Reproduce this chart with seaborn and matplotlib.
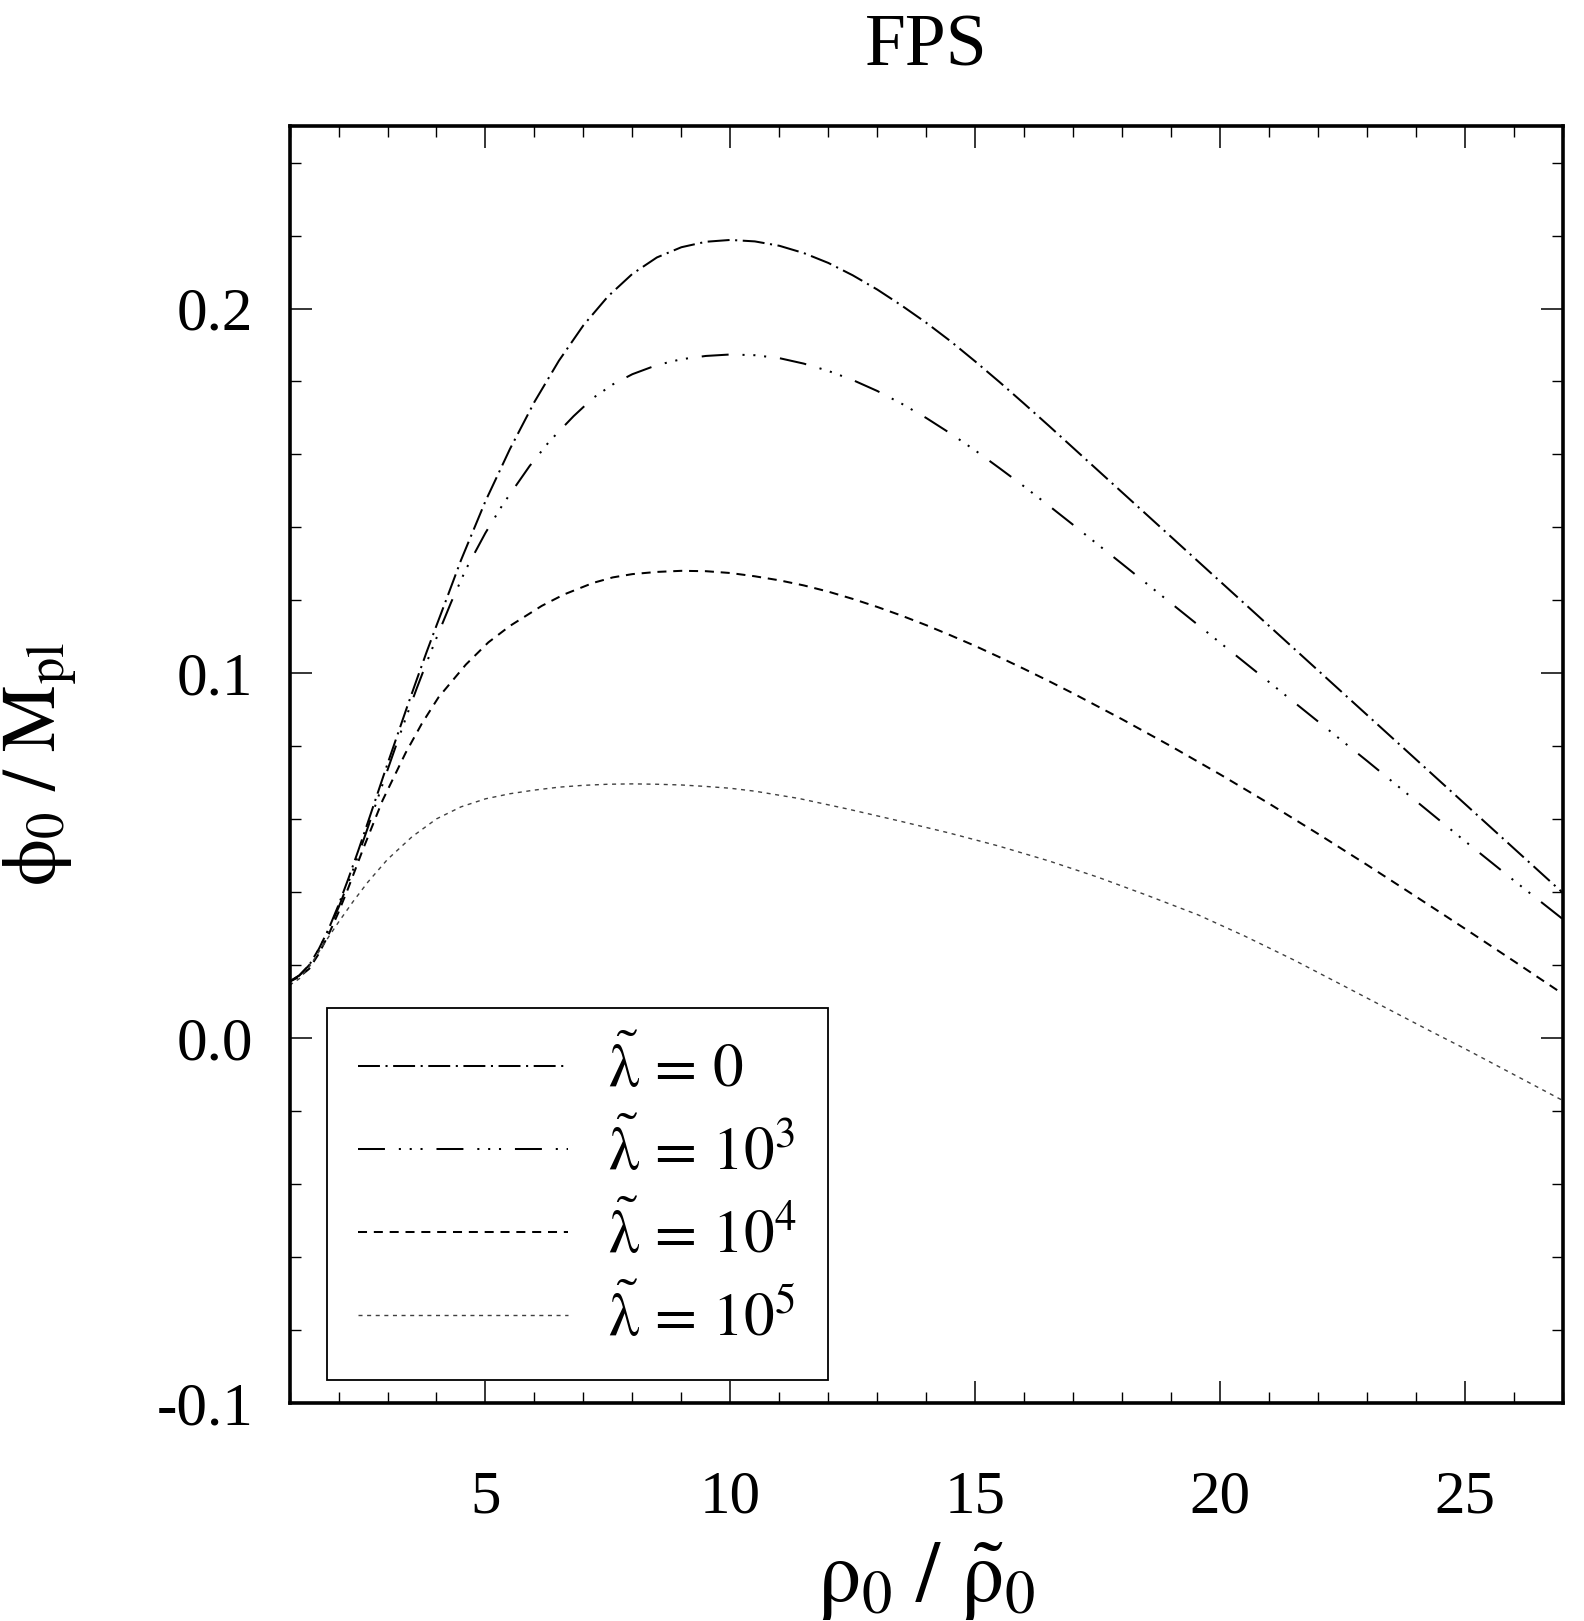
import numpy as np
import pandas as pd
import matplotlib
matplotlib.use("Agg")
import matplotlib.pyplot as plt
import seaborn as sns
from matplotlib.ticker import MultipleLocator, FixedLocator, FixedFormatter

# ---------------- data ----------------
x_lam0 = [1.0, 1.2, 1.4, 1.6, 1.8, 2.0, 2.2, 2.4, 2.6, 2.8, 3.0, 3.2, 3.4, 3.6, 3.8, 4.0, 4.2,
          4.5, 5.0, 5.5, 6.0, 6.5, 7.0, 7.5, 8.0, 8.5, 9.0, 9.5, 10.0, 10.5, 11.0, 11.5, 12.0,
          12.5, 13.0, 13.5, 14.0, 14.5, 15.0, 15.5, 16.0, 16.5, 17.0,
          18, 19, 20, 21, 22, 23, 24, 25, 26, 27]
y_lam0 = [.0155, .0172, .0200, .0245, .0300, .0365, .0437, .0513, .0592, .0672, .0752, .0830,
          .0908, .0984, .1059, .1131, .1202,
          .1310, .1472, .1615, .1744, .1857, .1954, .2033, .2095, .2140, .2168, .2183, .2188,
          .2184, .2172, .2152, .2125, .2091, .2052, .2008, .1961, .1910, .1855, .1798, .1739,
          .1679, .1618,
          .1496, .1374, .1252, .1130, .1008, .0886, .0764, .0642, .0520, .0398]

x_lam3 = [1.0, 1.2, 1.4, 1.6, 1.8, 2.0, 2.2, 2.4, 2.6, 2.8, 3.0, 3.2, 3.4, 3.6, 3.8, 4.0,
          4.3, 4.6, 5.0, 5.35, 5.9, 6.3, 6.8, 7.2, 7.6, 8.0,
          8.5, 9.0, 9.5, 10.0, 10.5, 11.0, 11.5, 12.0, 12.5, 13.0, 13.5, 14.0, 14.5, 15.0,
          15.5, 16.0, 16.5, 17.0,
          18, 19, 20, 21, 22, 23, 24, 25, 26, 27]
y_lam3 = [.0155, .0172, .0200, .0244, .0297, .0358, .0426, .0500, .0578, .0657, .0735, .0812,
          .0887, .0960, .1030, .1097,
          .1195, .1285, .1385, .1462, .1568, .1635, .1705, .1755, .1792, .1820,
          .1845, .1861, .1870, .1874, .1872, .1864, .1849, .1829, .1804, .1774, .1739, .1700,
          .1657, .1611, .1562, .1512, .1460, .1407,
          .1300, .1192, .1084, .0976, .0868, .0760, .0650, .0540, .0432, .0326]

x_lam4 = [1.0, 1.2, 1.4, 1.6, 1.8, 2.0, 2.2,
          2.5, 2.9, 3.37, 3.7, 4.04, 4.6, 5.06, 5.5, 6.15, 6.6, 7.2, 7.6, 8.0,
          8.5, 9.0, 9.5, 10.0, 10.5, 11.0, 11.5, 12.0, 12.5, 13.0, 13.5, 14.0, 14.5, 15.0,
          15.5, 16.0, 16.5, 17.0,
          18, 19, 20, 21, 22, 23, 24, 25, 26, 27]
y_lam4 = [.0155, .0168, .0190, .0232, .0285, .0345, .0412,
          .0518, .0652, .0782, .0862, .0934, .1024, .1085, .1130, .1185, .1216, .1248, .1263,
          .1272,
          .1278, .1281, .1280, .1275, .1266, .1255, .1241, .1224, .1204, .1182, .1158, .1132,
          .1104, .1075, .1044, .1012, .0979, .0945,
          .0874, .0800, .0723, .0643, .0560, .0475, .0388, .0300, .0211, .0121]

x_lam5 = [1.0, 1.2, 1.4, 1.6, 1.8, 2.0, 2.3, 2.6, 3.0, 3.5, 4.0,
          4.5, 5.0, 5.5, 6.0, 6.5, 7.0, 7.5, 8.0, 8.5, 9.0, 9.5, 10.0, 10.5,
          11.4, 12.4, 13.43, 14.45, 15.47, 16.5, 17.51, 18.5, 19.55, 20.5, 21.51, 22.5, 23.6,
          24.3, 25.0, 26.0, 26.9, 27.0]
y_lam5 = [.0145, .0163, .0195, .0237, .0278, .0318, .0375, .0428, .0490, .0552, .0601,
          .0634, .0656, .0670, .0680, .0688, .0693, .0696, .0697, .0696, .0694, .0690, .0685,
          .0677,
          .0657, .0628, .0596, .0563, .0527, .0486, .0441, .0392, .0338, .0280, .0214, .0145,
          .0068, .0019, -.0029, -.0100, -.0164, -.0171]

series_labels = [r"$\tilde{\mathrm{\lambda}}\,=\,0$",
                 r"$\tilde{\mathrm{\lambda}}\,=\,10^3$",
                 r"$\tilde{\mathrm{\lambda}}\,=\,10^4$",
                 r"$\tilde{\mathrm{\lambda}}\,=\,10^5$"]

x_ticks = [5, 10, 15, 20, 25]
x_ticklabels = ["5", "10", "15", "20", "25"]
y_ticks = [-0.1, 0.0, 0.1, 0.2]
y_ticklabels = ["-0.1", "0.0", "0.1", "0.2"]

title_text = "FPS"
xlabel_text = r"$\mathrm{\rho}_0\ /\ \tilde{\mathrm{\rho}}_0$"
ylabel_text = r"$\mathrm{\phi}_0\ /\ \mathrm{M}_{\mathrm{pl}}$"

# ---------------- styling ----------------
sns.set_theme(style="ticks")
plt.rcParams["font.family"] = ["Liberation Serif", "DejaVu Serif"]
plt.rcParams["mathtext.fontset"] = "stix"
plt.rcParams["lines.scale_dashes"] = False
for k in ["text.color", "axes.labelcolor", "xtick.color", "ytick.color", "axes.edgecolor"]:
    plt.rcParams[k] = "black"

frames = []
for xs, ys, lab in zip([x_lam0, x_lam3, x_lam4, x_lam5],
                       [y_lam0, y_lam3, y_lam4, y_lam5], series_labels):
    frames.append(pd.DataFrame({"rho": xs, "phi": ys, "series": lab}))
df = pd.concat(frames, ignore_index=True)

styles = {
    series_labels[0]: dict(color="black", lw=1.45, ls=(0, (15.8, 4.0, 1.5, 4.0))),
    series_labels[1]: dict(color="black", lw=1.45,
                           ls=(0, (19.4, 10.0, 1.5, 6.3, 1.5, 6.3, 1.5, 10.0))),
    series_labels[2]: dict(color="black", lw=1.45, ls=(0, (6.5, 4.9))),
    series_labels[3]: dict(color="#404040", lw=1.0, ls=(0, (2.9, 3.3))),
}

fig = plt.figure(figsize=(15.84, 16.21), dpi=100)
ax = fig.add_axes([0.1828, 0.1345, 0.8039, 0.7877])

for lab in series_labels:
    st = styles[lab]
    sub = df[df["series"] == lab]
    sns.lineplot(data=sub, x="rho", y="phi", ax=ax, color=st["color"], linewidth=st["lw"],
                 linestyle=st["ls"], label=lab, sort=False, estimator=None)

ax.set_xlim(1, 27)
ax.set_ylim(-0.1, 0.25)

ax.xaxis.set_major_locator(FixedLocator(x_ticks))
ax.xaxis.set_major_formatter(FixedFormatter(x_ticklabels))
ax.yaxis.set_major_locator(FixedLocator(y_ticks))
ax.yaxis.set_major_formatter(FixedFormatter(y_ticklabels))
ax.xaxis.set_minor_locator(MultipleLocator(1))
ax.yaxis.set_minor_locator(MultipleLocator(0.02))

ax.tick_params(which="both", direction="in", top=True, right=True, colors="black",
               labelsize=44)
ax.tick_params(which="major", length=16, width=1.1)
ax.tick_params(which="minor", length=8, width=1.0)
ax.tick_params(axis="x", which="major", pad=48)
ax.tick_params(axis="y", which="major", pad=26)

for sp in ax.spines.values():
    sp.set_linewidth(2.6)
    sp.set_color("black")
    sp.set_visible(True)

ax.set_title(title_text, fontsize=53, pad=44, color="black")
ax.set_xlabel(xlabel_text, fontsize=62)
ax.set_ylabel(ylabel_text, fontsize=54)
ax.xaxis.set_label_coords(0.5, -0.140)
ax.xaxis.label.set_va("center")
ax.yaxis.set_label_coords(-0.195, 0.5)
ax.yaxis.label.set_va("center")

leg = ax.legend(loc="lower left", bbox_to_anchor=(0.0294, 0.018), fontsize=44,
                frameon=True, fancybox=False, edgecolor="black", framealpha=1,
                handlelength=3.45, handletextpad=0.65, labelspacing=0.36,
                borderpad=0.5, borderaxespad=0.0)
leg.get_frame().set_linewidth(1.3)

fig.savefig("out.png", dpi=100, facecolor="white")
